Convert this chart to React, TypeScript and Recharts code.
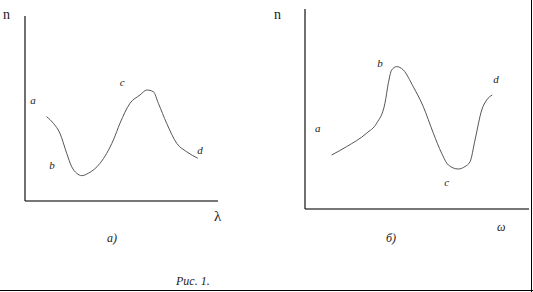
import { Line, XAxis, YAxis, Scatter, ComposedChart } from 'recharts';

// curve a) n(λ), axis units 0..100
const lambdaX = [11.2, 14.7, 18.1, 21.6, 24.2, 26.8, 29.4, 32.8, 38.9, 45.8, 49.2, 54.4, 59.6, 63.1, 66.5, 69.1, 73.4, 78.6, 83.8, 89.5];
const lambdaN = [45.6, 42.0, 36.6, 25.8, 18.5, 15.0, 13.7, 15.0, 20.4, 33.0, 42.0, 52.8, 57.3, 60.0, 59.1, 52.8, 42.0, 31.2, 26.6, 23.1];

// curve б) n(ω)
const omegaX = [11.9, 18.6, 27.5, 32.0, 35.7, 37.2, 38.7, 40.9, 43.9, 48.3, 52.8, 57.3, 61.0, 64.0, 68.4, 71.4, 73.7, 75.9, 78.9, 81.1, 83.6];
const omegaN = [27.0, 31.2, 37.9, 42.9, 52.9, 62.9, 69.5, 71.2, 69.5, 61.2, 51.2, 37.9, 27.9, 22.0, 20.0, 21.2, 23.7, 34.5, 49.5, 54.5, 57.0];

const pointNames = ['a', 'b', 'c', 'd'];
const lambdaLabelX = [4.1, 14.0, 50.3, 90.7];
const lambdaLabelY = [54.6, 19.5, 64.3, 27.6];
const omegaLabelX = [5.7, 33.5, 63.3, 85.3];
const omegaLabelY = [40.5, 73.0, 13.5, 65.0];

const curve = (xs: number[], ys: number[]) => xs.map((x, i) => ({ x, n: ys[i] }));
const marks = (xs: number[], ys: number[]) => xs.map((x, i) => ({ x, n: ys[i], name: pointNames[i] }));

const serif = '"Times New Roman", "Liberation Serif", Tinos, serif';

const LetterShape = (props: any) => (
    <text x={props.cx} y={props.cy} textAnchor="middle" dominantBaseline="central" fontFamily={serif} fontStyle="italic" fontSize={11} fill="#222">
        {props.payload.name}
    </text>
);

function Panel({
    line,
    labels,
    width,
    height,
    left,
    top,
    bottom,
    right,
}: {
    line: { x: number; n: number }[];
    labels: { x: number; n: number; name: string }[];
    width: number;
    height: number;
    left: number;
    top: number;
    bottom: number;
    right: number;
}) {
    return (
        <ComposedChart width={width} height={height} margin={{ top, right, left: 0, bottom: 0 }}>
            <XAxis type="number" dataKey="x" domain={[0, 100]} height={bottom} tick={false} tickLine={false} axisLine={{ stroke: '#777', strokeWidth: 2 }} />
            <YAxis type="number" dataKey="n" domain={[0, 100]} width={left} tick={false} tickLine={false} axisLine={{ stroke: '#111', strokeWidth: 1.2 }} />
            <Line data={line} dataKey="n" type="monotone" stroke="#555" strokeWidth={1} dot={false} isAnimationActive={false} />
            <Scatter data={labels} dataKey="n" shape={LetterShape} isAnimationActive={false} />
        </ComposedChart>
    );
}

export default function App() {
    const txt = { position: 'absolute' as const, fontFamily: serif, color: '#222', lineHeight: 1 };
    return (
        <div style={{ position: 'absolute', left: 0, top: 0, width: 533, height: 292, background: '#fff', overflow: 'hidden' }}>
            <div style={{ position: 'absolute', left: 0, top: 0 }}>
                <Panel line={curve(lambdaX, lambdaN)} labels={marks(lambdaLabelX, lambdaLabelY)} width={270} height={292} left={25} top={16} right={52} bottom={91} />
            </div>
            <div style={{ position: 'absolute', left: 270, top: 0 }}>
                <Panel line={curve(omegaX, omegaN)} labels={marks(omegaLabelX, omegaLabelY)} width={263} height={292} left={35} top={9} right={4} bottom={83} />
            </div>
            <span style={{ ...txt, left: 3, top: 8, fontSize: 14 }}>n</span>
            <span style={{ ...txt, left: 274, top: 8, fontSize: 14 }}>n</span>
            <span style={{ ...txt, left: 214, top: 209, fontSize: 15 }}>λ</span>
            <span style={{ ...txt, left: 497, top: 221, fontSize: 12, fontStyle: 'italic' }}>ω</span>
            <span style={{ ...txt, left: 107, top: 232, fontSize: 12, fontStyle: 'italic' }}>а)</span>
            <span style={{ ...txt, left: 386, top: 232, fontSize: 12, fontStyle: 'italic' }}>б)</span>
            <span style={{ ...txt, left: 176, top: 275, fontSize: 12, fontStyle: 'italic' }}>Рис. 1.</span>
            <div style={{ position: 'absolute', left: 531, top: 0, width: 1, height: 292, background: '#000' }} />
            <div style={{ position: 'absolute', left: 0, top: 290, width: 533, height: 1, background: '#000' }} />
        </div>
    );
}
